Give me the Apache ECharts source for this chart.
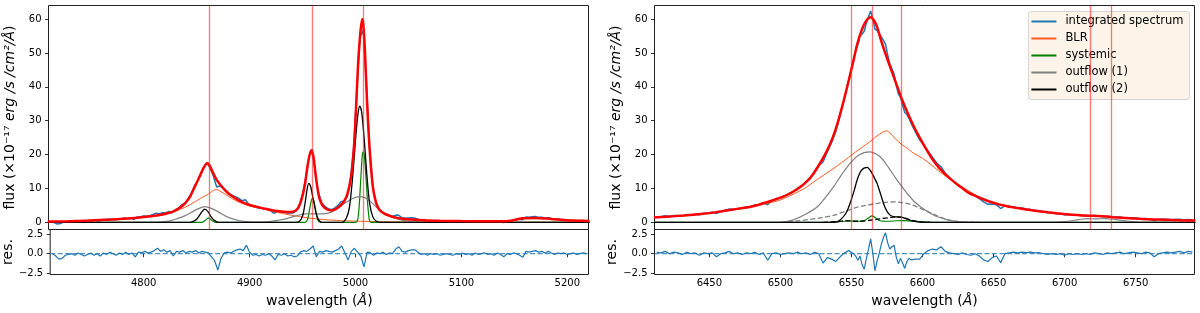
<!DOCTYPE html>
<html><head><meta charset="utf-8">
<script src="https://cdn.jsdelivr.net/npm/echarts@6/dist/echarts.min.js"></script>
<style>html,body{margin:0;padding:0;background:#fff}#c{width:1200px;height:313px}</style>
</head><body><div id="c"></div>
<script>
// ---------- H-beta + [OIII] panel ----------
const hbTicks = [4800, 4900, 5000, 5100, 5200];
const hbLines = [4862.7, 4960.3, 5008.2];
const hbSpec = [[4714,0.2],[4717,-0.1],[4720,-0.5],[4723,-0.35],[4726,0.1],[4729,0.2],[4732,0.3],[4735,0.15],[4738,0.5],[4741,0.3],[4744,0.15],[4747,0.4],[4750,0.6],[4753,0.35],[4756,0.6],[4759,0.3],[4762,0.75],[4765,0.6],[4768,0.95],[4771,0.8],[4774,0.7],[4777,1.05],[4780,0.9],[4783,1.25],[4786,1.0],[4789,1.3],[4792,0.85],[4795,1.55],[4798,1.55],[4801,1.85],[4804,1.75],[4807,1.95],[4810,2.3],[4813,2.7],[4816,2.45],[4819,2.85],[4822,2.75],[4825,3.2],[4828,2.8],[4831,3.75],[4834,4.2],[4837,5.1],[4840,5.6],[4843,7.0],[4846,8.4],[4849,10.6],[4852,12.3],[4855,14.5],[4858,16.4],[4861,17.5],[4864,15.9],[4867,13.5],[4870,10.4],[4873,10.7],[4876,10.2],[4879,9.3],[4882,8.4],[4885,7.9],[4888,7.5],[4891,7.05],[4894,6.35],[4897,6.65],[4900,5.4],[4903,4.75],[4906,4.6],[4909,4.2],[4912,4.2],[4915,3.85],[4918,3.85],[4921,3.35],[4924,2.65],[4927,3.2],[4930,3.0],[4933,3.1],[4936,2.75],[4939,2.8],[4942,2.75],[4945,3.4],[4948,5.4],[4951,8.6],[4954,13.5],[4957,19.4],[4960,21.6],[4963,14.1],[4966,8.6],[4969,5.7],[4972,4.7],[4975,4.0],[4978,3.7],[4981,4.2],[4984,4.9],[4987,6.1],[4990,6.3],[4993,7.5],[4996,12.8],[4999,22.2],[5002,39.2],[5005,54.7],[5008,56.8],[5011,40.2],[5014,21.6],[5017,10.3],[5020,5.9],[5023,3.8],[5026,3.1],[5029,2.3],[5032,2.1],[5035,1.75],[5038,2.05],[5041,2.15],[5044,1.45],[5047,1.2],[5050,1.3],[5053,1.35],[5056,1.3],[5059,0.95],[5062,0.55],[5065,0.6],[5068,0.35],[5071,0.55],[5074,0.4],[5077,0.5],[5080,0.25],[5083,0.35],[5086,0.4],[5089,0.3],[5092,0.2],[5095,0.4],[5098,0.25],[5101,0.45],[5104,0.25],[5107,0.35],[5110,0.15],[5113,0.4],[5116,0.2],[5119,0.3],[5122,0.4],[5125,0.2],[5128,0.3],[5131,0.1],[5134,0.4],[5137,0.25],[5140,-0.05],[5143,0.4],[5146,0.35],[5149,0.7],[5152,0.8],[5155,0.8],[5158,0.75],[5161,1.55],[5164,1.5],[5167,1.6],[5170,1.7],[5173,1.45],[5176,1.5],[5179,1.25],[5182,1.35],[5185,1.1],[5188,0.8],[5191,0.95],[5194,0.75],[5197,0.8],[5200,0.5],[5203,0.55],[5206,0.6],[5209,0.4],[5212,0.45],[5215,0.55],[5218,0.4]];
const hbFit = [[4711,0.2],[4730,0.3],[4750,0.5],[4770,0.8],[4790,1.2],[4805,1.7],[4815,2.1],[4823,2.6],[4830,3.3],[4835,4.2],[4840,5.5],[4845,7.6],[4848,9.6],[4852,12.2],[4855,14.2],[4858,16.2],[4861,17.4],[4863,16.9],[4866,15.0],[4870,12.5],[4875,10.5],[4880,8.8],[4885,7.6],[4890,6.6],[4895,5.8],[4901,5.1],[4910,4.4],[4917,3.9],[4925,3.4],[4933,3.1],[4940,3.0],[4944,3.4],[4947,4.4],[4950,6.8],[4953,11.0],[4956,17.5],[4959,21.3],[4961,19.5],[4963,14.5],[4965,9.8],[4967,6.8],[4970,4.8],[4974,3.8],[4978,3.5],[4982,3.9],[4986,4.8],[4990,6.2],[4993,8.3],[4996,12.5],[4998,17.5],[5000,26],[5003,46],[5005,55],[5007,60],[5008,58.5],[5009.5,51],[5011.5,36],[5014,21.5],[5017,10.5],[5020,5.8],[5023,3.8],[5027,2.7],[5032,2.0],[5040,1.3],[5050,0.9],[5065,0.6],[5080,0.45],[5100,0.35],[5130,0.3],[5145,0.4],[5152,0.8],[5158,1.2],[5170,1.3],[5185,1.0],[5200,0.6],[5221,0.4]];
const hbBlr = [[4711,0.15],[4740,0.35],[4770,0.7],[4790,1.1],[4805,1.6],[4815,2.0],[4825,2.7],[4835,3.7],[4845,5.2],[4855,7.1],[4862,8.3],[4866,9.2],[4869,9.7],[4872,9.4],[4878,8.3],[4885,6.9],[4893,5.7],[4901,4.8],[4910,4.2],[4917,3.7],[4925,3.1],[4932,2.6],[4940,2.1],[4948,1.7],[4956,1.3],[4964,1.0],[4975,0.7],[4990,0.45],[5005,0.3],[5020,0.2],[5050,0.1],[5100,0.05],[5221,0.02]];
const hbSys = [[4711,0],[4856,0],[4859,0.5],[4861,1.05],[4862.3,1.2],[4864,0.95],[4866,0.4],[4869,0],[4953,0],[4955.5,0.8],[4957.5,3.9],[4959,6.3],[4960.2,7.1],[4961.5,6.3],[4963,3.9],[4965,0.8],[4967.5,0],[5001,0],[5003.5,2.5],[5005.5,12],[5007,19.5],[5008,20.8],[5009.2,19],[5011,11],[5013,2.5],[5015.5,0],[5221,0]];
const hbOut1 = [[4711,0],[4812,0],[4820,0.2],[4827,0.5],[4833,1.1],[4840,1.9],[4846,2.9],[4852,3.9],[4858.8,4.6],[4865,4.1],[4872,3.0],[4878,1.9],[4885,1.0],[4892,0.45],[4900,0.15],[4910,0.05],[4920,0.2],[4928,0.6],[4936,1.1],[4945,1.9],[4954,2.5],[4962,2.5],[4970,2.5],[4978,3.0],[4985,4.4],[4992,5.9],[4998,7.0],[5004,7.6],[5010,7.2],[5016,5.8],[5022,4.0],[5028,2.6],[5035,1.5],[5042,0.8],[5050,0.35],[5060,0.1],[5070,0],[5221,0]];
const hbOut2 = [[4711,0],[4845,0],[4849,0.4],[4852,1.2],[4855,2.6],[4858.8,3.9],[4862,3.1],[4865,1.5],[4868,0.5],[4872,0],[4944,0],[4948,0.3],[4951,2.0],[4953,5.2],[4955,9.5],[4956.7,11.5],[4958.5,10.5],[4961,6.6],[4963.5,2.8],[4966,0.7],[4969,0],[4988,0],[4992,1.2],[4995,4.5],[4998,13.5],[5001,25.5],[5003,32],[5004.7,34.3],[5006.5,32.5],[5009,24],[5011.5,13.5],[5014,5.5],[5017,1.6],[5020,0.4],[5024,0],[5221,0]];
const hbRes = [[4714,0.0],[4717,-0.3],[4720,-0.7],[4723,-0.6],[4726,-0.2],[4729,-0.1],[4732,0.0],[4735,-0.2],[4738,0.1],[4741,-0.1],[4744,-0.3],[4747,-0.1],[4750,0.1],[4753,-0.2],[4756,0.0],[4759,-0.3],[4762,0.1],[4765,-0.1],[4768,0.2],[4771,0.0],[4774,-0.2],[4777,0.1],[4780,-0.1],[4783,0.2],[4786,-0.1],[4789,0.1],[4792,-0.4],[4795,0.2],[4798,0.1],[4801,0.3],[4804,0.1],[4807,0.2],[4810,0.4],[4813,0.7],[4816,0.3],[4819,0.5],[4822,0.2],[4825,0.4],[4828,-0.3],[4831,0.3],[4834,0.2],[4837,0.4],[4840,0.1],[4843,0.3],[4846,0.2],[4849,0.4],[4852,0.1],[4855,0.3],[4858,0.2],[4861,0.1],[4864,-0.4],[4867,-0.9],[4870,-2.1],[4873,-0.6],[4876,0.1],[4879,0.2],[4882,0.1],[4885,0.3],[4888,0.5],[4891,0.6],[4894,0.4],[4897,1.1],[4900,0.2],[4903,-0.2],[4906,-0.1],[4909,-0.3],[4912,-0.1],[4915,-0.2],[4918,0.0],[4921,-0.3],[4924,-0.8],[4927,-0.1],[4930,-0.2],[4933,0.0],[4936,-0.3],[4939,-0.2],[4942,-0.4],[4945,-0.3],[4948,0.2],[4951,0.4],[4954,0.3],[4957,0.6],[4960,1.0],[4963,-0.4],[4966,0.3],[4969,0.2],[4972,0.4],[4975,0.3],[4978,0.2],[4981,0.4],[4984,0.6],[4987,1.0],[4990,0.1],[4993,-0.8],[4996,0.3],[4999,0.7],[5002,0.2],[5005,-0.3],[5008,-1.7],[5011,0.2],[5014,0.1],[5017,-0.2],[5020,0.1],[5023,0.0],[5026,0.2],[5029,-0.1],[5032,0.1],[5035,0.0],[5038,0.6],[5041,0.9],[5044,0.3],[5047,0.2],[5050,0.4],[5053,0.5],[5056,0.5],[5059,0.2],[5062,-0.1],[5065,0.0],[5068,-0.2],[5071,0.0],[5074,-0.1],[5077,0.0],[5080,-0.2],[5083,-0.1],[5086,0.0],[5089,-0.1],[5092,-0.2],[5095,0.0],[5098,-0.1],[5101,0.1],[5104,-0.1],[5107,0.0],[5110,-0.2],[5113,0.1],[5116,-0.1],[5119,0.0],[5122,0.1],[5125,-0.1],[5128,0.0],[5131,-0.2],[5134,0.1],[5137,-0.1],[5140,-0.4],[5143,0.0],[5146,-0.1],[5149,0.1],[5152,0.0],[5155,-0.2],[5158,-0.45],[5161,0.3],[5164,0.2],[5167,0.3],[5170,0.4],[5173,0.2],[5176,0.3],[5179,0.1],[5182,0.3],[5185,0.1],[5188,-0.1],[5191,0.1],[5194,0.0],[5197,0.1],[5200,-0.1],[5203,0.0],[5206,0.1],[5209,-0.1],[5212,0.0],[5215,0.1],[5218,0.0]];

// ---------- H-alpha + [NII] + [SII] panel ----------
const haTicks = [6450, 6500, 6550, 6600, 6650, 6700, 6750];
const haLines = [6549.9, 6564.6, 6585.3, 6718.3, 6732.7];
const haSpec = [[6413,1.63],[6416,1.62],[6419,1.92],[6422,1.7],[6425,1.98],[6428,1.97],[6431,1.87],[6434,2.27],[6437,2.18],[6440,2.4],[6443,2.22],[6446,2.65],[6449,2.7],[6452,2.95],[6455,2.6],[6458,3.2],[6461,3.5],[6464,3.9],[6467,3.8],[6470,4.1],[6473,4.1],[6476,4.5],[6479,4.6],[6482,5.15],[6485,5.2],[6488,5.75],[6491,5.15],[6494,6.45],[6497,7.0],[6500,7.2],[6503,7.8],[6506,8.5],[6509,9.05],[6512,10.05],[6515,10.7],[6518,11.9],[6521,13.1],[6524,15.0],[6527,16.8],[6530,17.8],[6533,20.8],[6536,23.5],[6539,26.8],[6542,31.4],[6545,36.6],[6548,41.9],[6550,45.4],[6551.5,47.8],[6553,50.7],[6554.5,52.45],[6556,55.0],[6557.5,55.6],[6559,56.4],[6560.5,58.9],[6562,60.7],[6563.5,62.4],[6565,60.1],[6566.5,57.0],[6568,56.7],[6569.5,55.7],[6571,54.7],[6572.5,53.7],[6574,52.5],[6575.5,49.4],[6577,46.8],[6578.5,45.3],[6580,43.8],[6581.5,40.5],[6583,37.9],[6584.5,36.9],[6586,34.6],[6587.5,32.4],[6589,31.8],[6590.5,30.7],[6592,29.2],[6595,26.7],[6598,24.3],[6601,22.8],[6604,21.0],[6607,19.2],[6610,17.5],[6613,16.4],[6616,14.5],[6619,13.2],[6622,12.0],[6625,10.9],[6628,10.2],[6631,9.0],[6634,8.2],[6637,7.8],[6640,6.95],[6643,6.0],[6646,5.3],[6649,5.4],[6652,5.2],[6655,4.05],[6658,4.9],[6661,4.75],[6664,4.6],[6667,4.3],[6670,4.2],[6673,3.95],[6676,3.8],[6679,3.52],[6682,3.4],[6685,3.1],[6688,2.85],[6691,2.82],[6694,2.6],[6697,2.55],[6700,2.22],[6703,2.32],[6706,2.12],[6709,2.12],[6712,1.95],[6715,2.0],[6718,1.85],[6721,2.0],[6724,1.83],[6727,1.65],[6730,1.77],[6733,1.55],[6736,1.55],[6739,1.58],[6742,1.3],[6745,1.32],[6748,1.35],[6751,1.17],[6754,1.0],[6757,1.13],[6760,0.98],[6763,0.44],[6766,0.8],[6769,0.86],[6772,0.92],[6775,0.78],[6778,0.84],[6781,0.9],[6784,0.67],[6787,0.84],[6790,0.71]];
const haFit = [[6411,1.4],[6420,1.65],[6432,2.0],[6444,2.45],[6455,3.0],[6467,3.8],[6479,4.6],[6491,6.0],[6502,7.6],[6508,8.8],[6514,10.4],[6519,12.2],[6523,14.2],[6528,17.5],[6533,21.3],[6537,25.2],[6540,29],[6544,35],[6547,40],[6551,47],[6554,52.5],[6557,56.5],[6560,59.2],[6563.5,60.5],[6566,59.5],[6568,57.7],[6571,53.5],[6575,48.5],[6578,45],[6582,40.3],[6586,35.8],[6590,31.8],[6594,28.2],[6598,25],[6603,21.3],[6607,18.6],[6612,15.9],[6617,13.8],[6622,12.0],[6627,10.4],[6631,9.1],[6636,8.0],[6641,7.1],[6646,6.3],[6652,5.5],[6658,4.9],[6664,4.4],[6670,4.0],[6676,3.6],[6682,3.25],[6688,2.95],[6694,2.7],[6699,2.45],[6705,2.25],[6711,2.07],[6717,1.95],[6723,1.85],[6729,1.7],[6734,1.5],[6746,1.2],[6758,0.9],[6770,0.75],[6781,0.6],[6792,0.5]];
const haBlr = [[6411,1.38],[6420,1.63],[6432,1.98],[6444,2.42],[6455,2.95],[6467,3.75],[6479,4.5],[6491,5.6],[6500,6.6],[6510,8.5],[6517,10.0],[6523,11.8],[6530,13.8],[6537,15.8],[6543,17.6],[6548,19.2],[6553,20.8],[6558,22.3],[6563,23.8],[6568,25.5],[6572,26.6],[6574.5,27.0],[6577,26.4],[6581,24.6],[6585,23.1],[6590,21.6],[6594,20.3],[6600,18.9],[6606,17.0],[6611,15.3],[6617,13.4],[6622,12.0],[6627,10.7],[6632,9.4],[6636,8.4],[6641,7.0],[6652,5.35],[6664,4.3],[6676,3.5],[6688,2.9],[6699,2.4],[6711,2.0],[6723,1.75],[6734,1.5],[6746,1.2],[6758,0.92],[6770,0.74],[6781,0.6],[6792,0.5]];
const haSys = [[6411,0],[6535,0],[6540,0.15],[6545,0.3],[6549.5,0.4],[6554,0.3],[6559,0.5],[6562,1.3],[6564.5,1.9],[6567,1.3],[6570,0.45],[6576,0.3],[6582,0.45],[6586,0.5],[6592,0.35],[6600,0.15],[6610,0],[6792,0]];
const haOut1 = [[6411,0],[6500,0],[6509,0.7],[6517,2.2],[6526,4.6],[6532,7.5],[6537.5,10.5],[6543,14.0],[6549,17.4],[6555,19.8],[6562.5,20.8],[6570,19.4],[6576,16.2],[6582,12.5],[6589,8.6],[6594,6.2],[6598.5,4.6],[6605,2.8],[6610,1.7],[6617,0.8],[6625,0.2],[6635,0],[6692,0],[6702,0.3],[6710,0.8],[6716,1.1],[6722,1.0],[6729,1.1],[6736,0.8],[6745,0.3],[6755,0],[6792,0]];
const haOut1N = [[6500,0],[6510,0.3],[6520,0.8],[6530,1.4],[6538,2.1],[6546,3.3],[6553,4.3],[6560,5.0],[6567,5.5],[6574,5.9],[6580,6.0],[6586,5.8],[6592,5.2],[6598,4.2],[6604,3.1],[6610,2.0],[6616,1.0],[6622,0.4],[6630,0.1],[6640,0]];
const haOut2 = [[6411,0],[6538,0],[6542,0.7],[6546,2.6],[6549,5.6],[6552,9.5],[6554,12.5],[6557,15.3],[6561,16.2],[6564,14.8],[6566.5,12.8],[6568,11.5],[6570.5,8.3],[6573,5.0],[6575,3.2],[6577.5,2.0],[6581,1.6],[6585,1.5],[6589,1.0],[6593,0.4],[6598,0.05],[6603,0],[6792,0]];
const haOut2N = [[6530,0],[6540,0.2],[6546,0.5],[6551,0.3],[6556,0.3],[6563,0.6],[6570,1.0],[6577,1.4],[6582,1.6],[6587,1.3],[6592,0.6],[6598,0.15],[6605,0]];
const haRes = [[6413,0.2],[6416,0.1],[6419,0.3],[6422,0.0],[6425,0.2],[6428,0.1],[6431,-0.1],[6434,0.2],[6437,0.0],[6440,0.1],[6443,-0.2],[6446,0.1],[6449,0.0],[6452,0.1],[6455,-0.4],[6458,0.0],[6461,0.1],[6464,0.3],[6467,0.0],[6470,0.1],[6473,-0.1],[6476,0.1],[6479,0.0],[6482,0.2],[6485,-0.1],[6488,0.1],[6491,-0.85],[6494,0.0],[6497,0.1],[6500,-0.1],[6503,0.0],[6506,0.1],[6509,0.0],[6512,0.2],[6515,0.0],[6518,0.1],[6521,-0.1],[6524,0.2],[6527,0.0],[6530,-1.2],[6533,-0.5],[6536,-0.7],[6539,-1.0],[6542,-0.4],[6545,0.1],[6548,0.4],[6550,0.2],[6551.5,0.0],[6553,-0.3],[6554.5,-0.85],[6556,-0.3],[6557.5,-1.4],[6559,-2.0],[6560.5,-0.6],[6562,0.6],[6563.5,1.9],[6565,0.1],[6566.5,-2.2],[6568,-1.0],[6569.5,0.0],[6571,1.2],[6572.5,2.1],[6574,2.7],[6575.5,1.4],[6577,0.6],[6578.5,0.9],[6580,1.1],[6581.5,-0.4],[6583,-1.3],[6584.5,-0.6],[6586,-1.2],[6587.5,-1.9],[6589,-1.0],[6590.5,-0.6],[6592,-0.8],[6595,-0.7],[6598,-0.7],[6601,0.0],[6604,0.4],[6607,0.6],[6610,0.5],[6613,0.9],[6616,0.3],[6619,0.1],[6622,0.0],[6625,-0.1],[6628,0.1],[6631,-0.1],[6634,-0.2],[6637,0.0],[6640,-0.3],[6643,-0.8],[6646,-1.0],[6649,-0.5],[6652,-0.3],[6655,-1.15],[6658,0.0],[6661,0.1],[6664,0.2],[6667,0.1],[6670,0.2],[6673,0.15],[6676,0.2],[6679,0.1],[6682,0.15],[6685,0.0],[6688,-0.1],[6691,0.0],[6694,-0.1],[6697,0.0],[6700,-0.2],[6703,0.0],[6706,-0.1],[6709,0.0],[6712,-0.1],[6715,0.0],[6718,-0.1],[6721,0.1],[6724,0.0],[6727,-0.1],[6730,0.1],[6733,0.0],[6736,0.1],[6739,0.2],[6742,0.0],[6745,0.1],[6748,0.2],[6751,0.1],[6754,0.0],[6757,0.2],[6760,0.1],[6763,-0.4],[6766,0.0],[6769,0.1],[6772,0.2],[6775,0.1],[6778,0.2],[6781,0.3],[6784,0.1],[6787,0.3],[6790,0.2]];

const fluxTicks = [0, 10, 20, 30, 40, 50, 60];
const resTicks = [-2.5, 0, 2.5];
const legendNames = ['integrated spectrum', 'BLR', 'systemic', 'outflow (1)', 'outflow (2)'];

// ---------- styling / layout ----------
const FONT = 'DejaVu Sans';
const C_SPEC = '#1f77b4', C_FIT = '#ff0000', C_BLR = '#ff5b24', C_SYS = '#008000', C_O1 = '#808080', C_O2 = '#000000';
const hbRange = [4711.7, 5220];
const haRange = [6411.4, 6791.4];
const fluxRange = [-2.13, 64.0];
const resRange = [-2.68, 3.12];

function grid(left, top, h) {
  return {left: left, top: top, width: 540, height: h, show: true, borderColor: '#222', borderWidth: 1, backgroundColor: 'rgba(0,0,0,0)', containLabel: false};
}
const labelStyle = {color: '#000', fontSize: 10, fontFamily: FONT};
const tickStyle = {show: true, length: 3.5, inside: false, lineStyle: {color: '#000', width: 0.8}};
function xMain(gi, range) {
  return {type: 'value', gridIndex: gi, min: range[0], max: range[1], axisLine: {show: false}, axisTick: {show: false}, axisLabel: {show: false}, splitLine: {show: false}};
}
function xRes(gi, range, ticks) {
  return {type: 'value', gridIndex: gi, min: range[0], max: range[1], axisLine: {show: false}, splitLine: {show: false},
    axisTick: Object.assign({customValues: ticks}, tickStyle),
    axisLabel: Object.assign({customValues: ticks, margin: 4, formatter: v => String(v)}, labelStyle),
    name: 'wavelength ({it|Å})', nameLocation: 'middle', nameGap: 20,
    nameTextStyle: {color: '#000', fontSize: 14, fontFamily: FONT, rich: {it: {fontStyle: 'italic', fontSize: 14, fontFamily: FONT, color: '#000'}}}};
}
function yMain(gi) {
  return {type: 'value', gridIndex: gi, min: fluxRange[0], max: fluxRange[1], axisLine: {show: false}, splitLine: {show: false},
    axisTick: Object.assign({customValues: fluxTicks}, tickStyle),
    axisLabel: Object.assign({customValues: fluxTicks, margin: 7, formatter: v => String(v)}, labelStyle),
    name: 'flux (×10⁻¹⁷ {it|erg /s /cm²/Å})', nameLocation: 'middle', nameGap: 31, nameRotate: 90,
    nameTextStyle: {color: '#000', fontSize: 14, fontFamily: FONT, rich: {it: {fontStyle: 'italic', fontSize: 14, fontFamily: FONT, color: '#000'}}}};
}
function yRes(gi) {
  return {type: 'value', gridIndex: gi, min: resRange[0], max: resRange[1], axisLine: {show: false}, splitLine: {show: false},
    axisTick: Object.assign({customValues: resTicks}, tickStyle),
    axisLabel: Object.assign({customValues: resTicks, margin: 7, formatter: v => v === 0 ? '0.0' : (v < 0 ? '\u2212' + Math.abs(v).toFixed(1) : v.toFixed(1))}, labelStyle),
    name: 'res.', nameLocation: 'middle', nameGap: 35, nameRotate: 90,
    nameTextStyle: {color: '#000', fontSize: 14, fontFamily: FONT}};
}
function L(name, data, axis, color, width, extra) {
  return Object.assign({type: 'line', name: name, data: data, xAxisIndex: axis, yAxisIndex: axis, color: color,
    symbol: 'none', showSymbol: false, silent: true, clip: true, z: 3,
    lineStyle: {color: color, width: width}}, extra || {});
}
function vlines(vals) {
  return {symbol: 'none', silent: true, animation: false, label: {show: false},
    lineStyle: {color: 'rgba(255,30,30,0.6)', width: 1.3, type: 'solid'},
    data: vals.map(v => ({xAxis: v}))};
}
const sm = 0.3;
const series = [
  // left main
  L('integrated spectrum', hbSpec, 0, C_SPEC, 1.5, {z: 2}),
  L('BLR', hbBlr, 0, C_BLR, 1, {smooth: sm}),
  L('systemic', hbSys, 0, C_SYS, 1.2, {smooth: sm}),
  L('outflow (1)', hbOut1, 0, C_O1, 1.2, {smooth: sm}),
  L('outflow (2)', hbOut2, 0, C_O2, 1.3, {smooth: sm}),
  L('fit', hbFit, 0, C_FIT, 2.5, {smooth: sm, z: 4, markLine: vlines(hbLines)}),
  // left residual
  L('zero', [[hbRange[0], 0], [hbRange[1], 0]], 1, C_SPEC, 1, {lineStyle: {color: C_SPEC, width: 1, type: [5, 2.5]}}),
  L('residual', hbRes, 1, C_SPEC, 1.2),
  // right main
  L('integrated spectrum', haSpec, 2, C_SPEC, 1.5, {z: 2}),
  L('BLR', haBlr, 2, C_BLR, 1, {smooth: sm}),
  L('systemic', haSys, 2, C_SYS, 1.2, {smooth: sm}),
  L('outflow (1)', haOut1, 2, C_O1, 1.2, {smooth: sm}),
  L('outflow (1) [NII]', haOut1N, 2, C_O1, 1.2, {smooth: sm, lineStyle: {color: C_O1, width: 1.3, type: [5, 2.5]}}),
  L('outflow (2)', haOut2, 2, C_O2, 1.3, {smooth: sm}),
  L('outflow (2) [NII]', haOut2N, 2, C_O2, 1.2, {smooth: sm, lineStyle: {color: C_O2, width: 1.3, type: [5, 2.5]}}),
  L('fit', haFit, 2, C_FIT, 2.5, {smooth: sm, z: 4, markLine: vlines(haLines)}),
  // right residual
  L('zero', [[haRange[0], 0], [haRange[1], 0]], 3, C_SPEC, 1, {lineStyle: {color: C_SPEC, width: 1, type: [5, 2.5]}}),
  L('residual', haRes, 3, C_SPEC, 1.2)
];

const option = {
  animation: false,
  backgroundColor: '#ffffff',
  textStyle: {fontFamily: FONT},
  grid: [grid(48.5, 5.5, 224), grid(48.5, 229.5, 45), grid(654.5, 5.5, 224), grid(654.5, 229.5, 45)],
  xAxis: [xMain(0, hbRange), xRes(1, hbRange, hbTicks), xMain(2, haRange), xRes(3, haRange, haTicks)],
  yAxis: [yMain(0), yRes(1), yMain(2), yRes(3)],
  legend: {
    show: true, orient: 'vertical', right: 10.5, top: 11.5, data: legendNames, selectedMode: false,
    icon: 'rect', itemWidth: 25, itemHeight: 2, itemGap: 3, padding: [3, 6, 3, 3],
    backgroundColor: '#fcf4e8', borderColor: '#d4d4d4', borderWidth: 1, borderRadius: 3,
    textStyle: {color: '#000', fontSize: 11.5, fontFamily: FONT, lineHeight: 14, padding: [0, 0, 0, 4]}
  },
  series: series
};
const chart = echarts.init(document.getElementById('c'), null, {renderer: 'canvas'});
chart.setOption(option);
</script></body></html>
